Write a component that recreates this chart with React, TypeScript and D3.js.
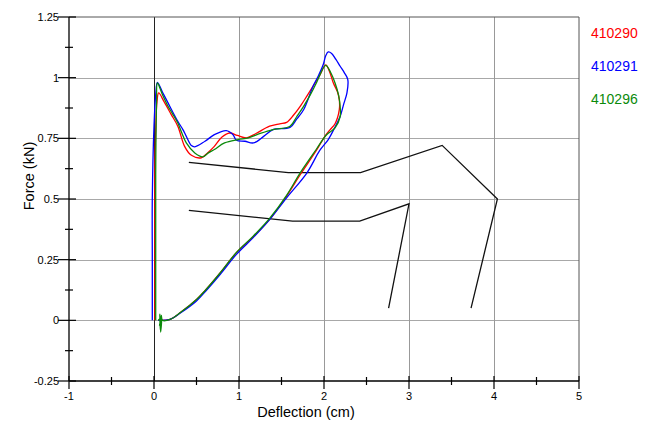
import React from "react";
import * as d3 from "d3";

// series: [deflection cm, force kN]
const s410290: [number, number][] = [
  [0.01, 0], [0.01, 0.3], [0.01, 0.6], [0.02, 0.78], [0.035, 0.9], [0.055, 0.937],
  [0.12, 0.9], [0.2, 0.85], [0.28, 0.8], [0.36, 0.717], [0.44, 0.68], [0.557, 0.67],
  [0.63, 0.69], [0.71, 0.717], [0.8, 0.755], [0.89, 0.772], [0.98, 0.762], [1.09, 0.752],
  [1.2, 0.77], [1.36, 0.8], [1.48, 0.81], [1.56, 0.816], [1.64, 0.845], [1.72, 0.882],
  [1.8, 0.925], [1.87, 0.964], [1.95, 1.01], [2.02, 1.053], [2.06, 1.03], [2.11, 0.978],
  [2.16, 0.94], [2.18, 0.909], [2.18, 0.868], [2.13, 0.81], [2.07, 0.785], [2.01, 0.758],
  [1.91, 0.7], [1.72, 0.6], [1.56, 0.512], [1.36, 0.416], [1.17, 0.345], [0.97, 0.279],
  [0.78, 0.196], [0.62, 0.13], [0.5, 0.086], [0.31, 0.032], [0.19, 0.004], [0.05, 0]
];

const s410291: [number, number][] = [
  [-0.02, 0], [-0.02, 0.25], [-0.02, 0.5], [0.0, 0.8], [0.02, 0.93], [0.04, 0.981],
  [0.1, 0.94], [0.165, 0.896], [0.28, 0.82], [0.34, 0.786], [0.38, 0.758], [0.44, 0.72],
  [0.48, 0.715], [0.6, 0.738], [0.71, 0.765], [0.85, 0.782], [0.93, 0.765], [0.97, 0.742],
  [1.07, 0.738], [1.17, 0.731], [1.29, 0.758], [1.4, 0.786], [1.6, 0.795], [1.68, 0.83],
  [1.76, 0.868], [1.87, 0.964], [1.93, 1.005], [1.99, 1.053], [2.02, 1.09], [2.05, 1.106],
  [2.09, 1.1], [2.14, 1.075], [2.19, 1.047], [2.24, 1.02], [2.28, 0.992], [2.27, 0.937],
  [2.23, 0.889], [2.19, 0.84], [2.12, 0.79], [2.05, 0.745], [1.95, 0.7], [1.8, 0.608],
  [1.56, 0.505], [1.36, 0.415], [1.17, 0.342], [0.97, 0.272], [0.78, 0.19], [0.62, 0.125],
  [0.5, 0.08], [0.31, 0.03], [0.19, 0.004], [0.05, 0]
];

const s410296: [number, number][] = [
  [0.02, 0], [0.02, 0.3], [0.02, 0.6], [0.03, 0.9], [0.04, 0.978], [0.1, 0.93],
  [0.165, 0.882], [0.22, 0.85], [0.28, 0.813], [0.33, 0.77], [0.38, 0.731], [0.48, 0.69],
  [0.576, 0.674], [0.64, 0.69], [0.71, 0.704], [0.83, 0.731], [0.99, 0.745], [1.11, 0.752],
  [1.25, 0.77], [1.4, 0.786], [1.6, 0.8], [1.68, 0.84], [1.76, 0.882], [1.84, 0.93],
  [1.91, 0.978], [2.02, 1.051], [2.08, 1.02], [2.13, 0.978], [2.17, 0.93], [2.19, 0.882],
  [2.19, 0.84], [2.13, 0.793], [2.03, 0.765], [1.91, 0.705], [1.72, 0.608], [1.56, 0.515],
  [1.36, 0.42], [1.17, 0.348], [0.97, 0.28], [0.78, 0.196], [0.62, 0.13], [0.5, 0.086],
  [0.31, 0.032], [0.19, 0.004], [0.1, 0], [0.085, 0.02], [0.075, -0.04], [0.068, 0.025],
  [0.078, -0.048], [0.09, 0.015], [0.065, -0.02], [0.08, 0.01], [0.05, 0]
];

// black annotation polylines
const black1: [number, number][] = [
  [0.41, 0.651], [1.58, 0.609], [2.43, 0.609], [3.39, 0.721], [4.04, 0.5], [3.73, 0.05]
];
const black2: [number, number][] = [
  [0.41, 0.453], [1.63, 0.409], [2.42, 0.409], [3.0, 0.48], [2.76, 0.05]
];

const series = [
  { name: "410290", color: "#ff0000", data: s410290 },
  { name: "410291", color: "#0000ff", data: s410291 },
  { name: "410296", color: "#0a8a0a", data: s410296 }
];

const xTicks = [-1, 0, 1, 2, 3, 4, 5];
const yTicks = [-0.25, 0, 0.25, 0.5, 0.75, 1, 1.25];

export default function App() {
  const W = 653, H = 422;
  const x = d3.scaleLinear().domain([-1, 5]).range([69, 579]);
  const y = d3.scaleLinear().domain([-0.25, 1.25]).range([381, 17]);
  const line = d3.line<[number, number]>().x(d => x(d[0])).y(d => y(d[1]));
  const smooth = d3.line<[number, number]>().x(d => x(d[0])).y(d => y(d[1])).curve(d3.curveCatmullRom.alpha(0.5));
  const font = "Arial, 'Liberation Sans', sans-serif";

  const xMinor = d3.range(-1, 5.01, 0.5).filter(v => !xTicks.includes(v));
  const yMinor = d3.range(-0.25, 1.26, 0.125).filter(v => !yTicks.some(t => Math.abs(t - v) < 1e-6));

  return (
    <div style={{ position: "absolute", left: 0, top: 0 }}>
      <svg width={W} height={H} style={{ display: "block", background: "#fff" }}>
        {/* grid */}
        {yTicks.slice(1, -1).map(t => (
          <line key={"gy" + t} x1={x(-1)} x2={x(5)} y1={Math.round(y(t)) + 0.5} y2={Math.round(y(t)) + 0.5}
            stroke="#a8a8a8" strokeWidth={1} />
        ))}
        {xTicks.slice(1, -1).map(t => (
          <line key={"gx" + t} x1={Math.round(x(t)) + 0.5} x2={Math.round(x(t)) + 0.5} y1={y(1.25)} y2={y(-0.25)}
            stroke={t === 0 ? "#222" : "#999"} strokeWidth={1} />
        ))}
        {/* frame top/right */}
        <line x1={x(-1)} x2={x(5)} y1={y(1.25)} y2={y(1.25)} stroke="#555" />
        <line x1={x(5)} x2={x(5)} y1={y(1.25)} y2={y(-0.25)} stroke="#555" />

        {/* annotation lines */}
        <path d={line(black1) || ""} fill="none" stroke="#111" strokeWidth={1.3} />
        <path d={line(black2) || ""} fill="none" stroke="#111" strokeWidth={1.3} />

        {/* series */}
        {series.map(s => (
          <path key={s.name} d={smooth(s.data) || ""} fill="none" stroke={s.color} strokeWidth={1.3}
            strokeLinejoin="round" />
        ))}

        {/* left axis */}
        <line x1={x(-1)} x2={x(-1)} y1={y(1.25)} y2={y(-0.25)} stroke="#000" strokeWidth={1.3} />
        {yTicks.map(t => (
          <g key={"yt" + t}>
            <line x1={x(-1) - 11} x2={x(-1) + 7} y1={y(t)} y2={y(t)} stroke="#000" strokeWidth={1.2} />
            <text x={x(-1) - 10} y={y(t)} dy="0.35em" textAnchor="end" fontFamily={font} fontSize={11} fill="#000">
              {String(t)}
            </text>
          </g>
        ))}
        {yMinor.map(t => (
          <line key={"ym" + t} x1={x(-1) - 4} x2={x(-1) + 4} y1={y(t)} y2={y(t)} stroke="#000" strokeWidth={1.2} />
        ))}

        {/* bottom axis */}
        <line x1={x(-1)} x2={x(5)} y1={y(-0.25)} y2={y(-0.25)} stroke="#000" strokeWidth={1.3} />
        {xTicks.map(t => (
          <g key={"xt" + t}>
            <line x1={x(t)} x2={x(t)} y1={y(-0.25) - 5} y2={y(-0.25) + 8} stroke="#000" strokeWidth={1.2} />
            <text x={x(t)} y={400} textAnchor="middle" fontFamily={font} fontSize={11} fill="#000">
              {String(t)}
            </text>
          </g>
        ))}
        {xMinor.map(t => (
          <line key={"xm" + t} x1={x(t)} x2={x(t)} y1={y(-0.25) - 4} y2={y(-0.25) + 4} stroke="#000" strokeWidth={1.2} />
        ))}

        {/* axis titles */}
        <text x={306} y={417} textAnchor="middle" fontFamily={font} fontSize={14.5} fill="#000">Deflection (cm)</text>
        <text transform="translate(34,176) rotate(-90)" textAnchor="middle" fontFamily={font} fontSize={14.5} fill="#000">
          Force (kN)
        </text>

        {/* legend */}
        {series.map((s, i) => (
          <text key={"lg" + s.name} x={591} y={37.5 + i * 33} fontFamily={font} fontSize={14} fill={s.color}>
            {s.name}
          </text>
        ))}
      </svg>
    </div>
  );
}
